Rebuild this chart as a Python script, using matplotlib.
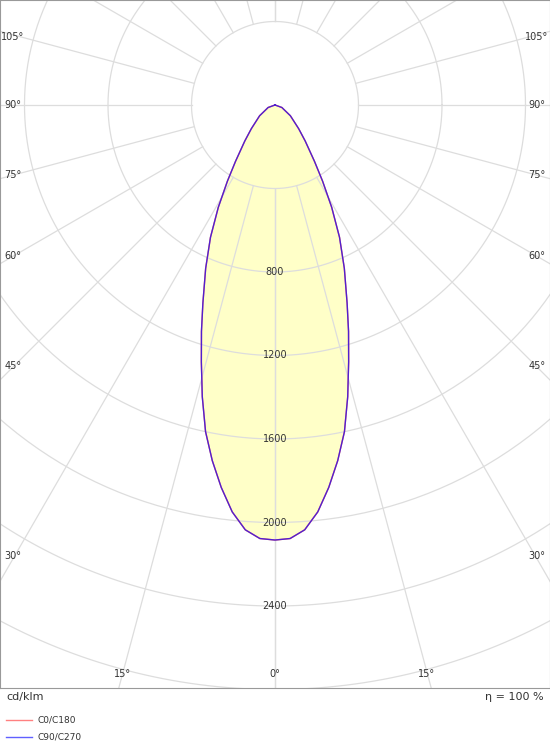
import numpy as np
import matplotlib
matplotlib.use("Agg")
import matplotlib.pyplot as plt

angles_deg = [0, 2, 4, 6, 8, 10, 12, 14, 16, 18, 20, 23, 26, 29, 32, 35, 40, 45, 55, 70, 90]
intensity = [2084, 2078, 2040, 1960, 1850, 1730, 1600, 1440, 1280, 1140, 1010, 850, 705, 560, 430, 330, 225, 160, 90, 35, 0]
ring_values = [400, 800, 1200, 1600, 2000, 2400, 2800, 3200]
ring_labels = [800, 1200, 1600, 2000, 2400]

fig = plt.figure(figsize=(5.5, 7.5), dpi=100)
ax = fig.add_axes([0, 62/750, 1, 688/750])
s = 400/83.5
ax.set_xlim(-275*s, 275*s)
ax.set_ylim(-583*s, 105*s)
ax.set_aspect('auto')
ax.set_xticks([]); ax.set_yticks([])
for sp in ax.spines.values():
    sp.set_color('#999999')

g = '#dddddd'
t = np.linspace(0, 2*np.pi, 400)
for r in ring_values:
    ax.plot(r*np.cos(t), r*np.sin(t), color=g, lw=0.9, zorder=2)
R = 5000
for a in range(0, 181, 15):
    for sgn in (1, -1):
        th = np.radians(a)
        dx, dy = sgn*np.sin(th), -np.cos(th)
        ax.plot([400*dx, R*dx], [400*dy, R*dy], color=g, lw=0.9, zorder=2)

a = np.radians(np.array(angles_deg))
r = np.array(intensity)
xs = np.concatenate([-(r*np.sin(a))[::-1], (r*np.sin(a))[1:]])
ys = np.concatenate([(-r*np.cos(a))[::-1], (-r*np.cos(a))[1:]])
ax.fill(xs, ys, color='#ffffc8', zorder=1)
ax.plot(xs, ys, color='#ff8080', lw=1.0, zorder=3)
ax.plot(xs, ys, color='#5020d0', lw=1.0, zorder=4)

for v in ring_labels:
    ax.text(0, -v, str(v), ha='center', va='center', fontsize=7, color='#333333', zorder=5)

pos = {105: 37, 90: 105, 75: 175, 60: 256, 45: 366, 30: 556}
for ang, py in pos.items():
    yy = (105 - py)*s
    ax.text(-262*s, yy, f"{ang}°", ha='center', va='center', fontsize=7, color='#333333')
    ax.text(262*s, yy, f"{ang}°", ha='center', va='center', fontsize=7, color='#333333')
for px, lab in [(123, 15), (427, 15), (275, 0)]:
    ax.text((px-275)*s, (105-674)*s, f"{lab}°", ha='center', va='center', fontsize=7, color='#333333')

fig.text(6/550, 1-697/750, "cd/klm", ha='left', va='center', fontsize=8, color='#333333')
fig.text(544/550, 1-697/750, "η = 100 %", ha='right', va='center', fontsize=8, color='#333333')
for y, c, lab in [(720, '#ff8080', 'C0/C180'), (737, '#6060ff', 'C90/C270')]:
    fig.add_artist(plt.Line2D([6/550, 32/550], [1-y/750]*2, color=c, lw=1))
    fig.text(38/550, 1-y/750, lab, ha='left', va='center', fontsize=6.5, color='#333333')

fig.savefig("out.png", dpi=100)
